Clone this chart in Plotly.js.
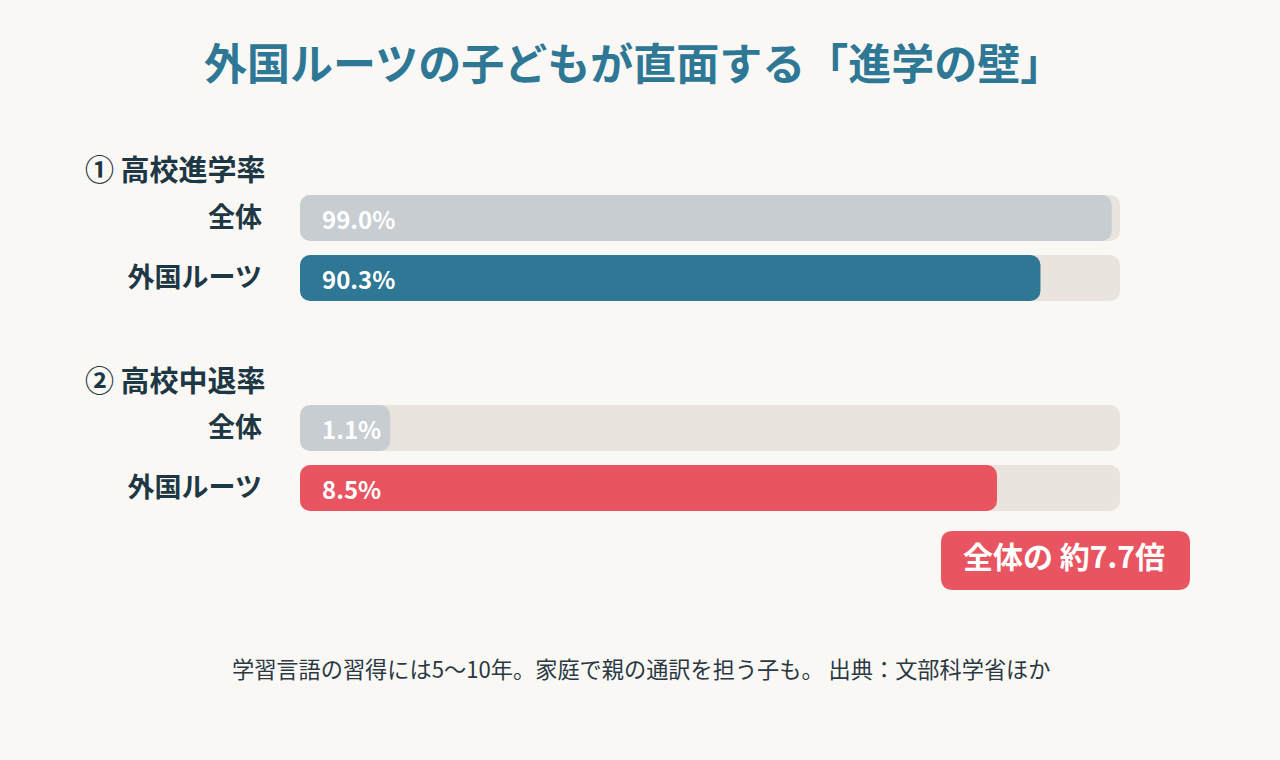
<!DOCTYPE html>
<html><head><meta charset="utf-8">
<script src="https://cdn.plot.ly/plotly-3.0.1.min.js"></script>
<style>html,body{margin:0;padding:0;background:#faf8f5;}#chart{width:1280px;height:760px;}</style>
</head><body><div id="chart"></div>
<script>
// ---- data ----
const categories = ["全体", "外国ルーツ"];
const enrollRate = [99.0, 90.3];      // ① 高校進学率 (%)
const dropoutRate = [1.1, 8.5];       // ② 高校中退率 (%)
const enrollMax = 100;
const dropoutMax = 10;
const sectionTitles = ["① 高校進学率", "② 高校中退率"];
const ratioLabel = "全体の 約7.7倍";
const chartTitle = "外国ルーツの子どもが直面する「進学の壁」";
const footnote = "学習言語の習得には5～10年。家庭で親の通訳を担う子も。 出典：文部科学省ほか";

// ---- style ----
const FONT = '"Noto Sans CJK JP", "Noto Sans", sans-serif';
const trackColor = "#e9e4de";
const greyColor = "#c8cdd2";
const teal = "#2e7795";
const red = "#e85561";
const dark = "#1e3744";
const W = 1280, H = 760;
const px = x => x / W, py = y => 1 - y / H;

const barW = 0.767;
const R = 10;
const traces = [];
// Each bar is drawn as two overlapping pieces (one rounded at each end) so both ends are rounded.
function roundedBars(vals, xa, ya, colors) {
  const common = {type: "bar", orientation: "h", y: categories, xaxis: xa, yaxis: ya,
    width: barW, hoverinfo: "skip", showlegend: false};
  traces.push(Object.assign({}, common, {base: vals.map(v => v * 0.6), x: vals.map(v => -v * 0.6),
    marker: {color: colors, cornerradius: R, line: {width: 0}}}));
  traces.push(Object.assign({}, common, {base: vals.map(v => v * 0.4), x: vals.map(v => v * 0.6),
    marker: {color: colors, cornerradius: R, line: {width: 0}}}));
}
function addSection(vals, max, xa, ya, colors) {
  roundedBars(categories.map(() => max), xa, ya, categories.map(() => trackColor));
  roundedBars(vals, xa, ya, colors);
}
addSection(enrollRate, enrollMax, "x", "y", [greyColor, teal]);
addSection(dropoutRate, dropoutMax, "x2", "y2", [greyColor, red]);

const xdom = [px(300), px(1120)];
const yTick = {family: FONT, size: 27, color: dark, weight: "bold"};
const axisX = (max) => ({domain: xdom, range: [0, max], visible: false, fixedrange: true});
const axisY = (dom) => ({domain: dom, type: "category", autorange: "reversed",
  showgrid: false, zeroline: false, showline: false, ticks: "",
  tickfont: yTick, ticklabelstandoff: 37, fixedrange: true});

const annotations = [];
function valueLabels(vals, xr, yr) {
  vals.forEach((v, i) => annotations.push({x: 0, y: categories[i], xref: xr, yref: yr,
    text: v.toFixed(1) + "%", showarrow: false, xanchor: "left", xshift: 20,
    font: {family: FONT, size: 24, color: "#ffffff", weight: "bold"}}));
}
valueLabels(enrollRate, "x", "y");
valueLabels(dropoutRate, "x2", "y2");

annotations.push({x: px(633), y: py(61), xref: "paper", yref: "paper", text: chartTitle,
  showarrow: false, xanchor: "center", yanchor: "middle",
  font: {family: FONT, size: 43, color: teal, weight: "bold"}});
[[sectionTitles[0], 168], [sectionTitles[1], 379]].forEach(([t, y]) => annotations.push({
  x: px(83), y: py(y), xref: "paper", yref: "paper", text: t, showarrow: false,
  xanchor: "left", yanchor: "middle", font: {family: FONT, size: 29, color: dark, weight: "bold"}}));
annotations.push({x: px(1064), y: py(555), xref: "paper", yref: "paper", text: ratioLabel,
  showarrow: false, xanchor: "center", yanchor: "middle",
  font: {family: FONT, size: 30, color: "#ffffff", weight: "bold"}});
annotations.push({x: px(641), y: py(668), xref: "paper", yref: "paper", text: footnote,
  showarrow: false, xanchor: "center", yanchor: "middle",
  font: {family: FONT, size: 22.2, color: "#2a3843"}});

function roundRect(x0, y0, x1, y1, r) {
  const X = v => px(v).toFixed(5), Y = v => py(v).toFixed(5);
  return `M ${X(x0 + r)} ${Y(y0)} L ${X(x1 - r)} ${Y(y0)} Q ${X(x1)} ${Y(y0)} ${X(x1)} ${Y(y0 + r)} ` +
    `L ${X(x1)} ${Y(y1 - r)} Q ${X(x1)} ${Y(y1)} ${X(x1 - r)} ${Y(y1)} L ${X(x0 + r)} ${Y(y1)} ` +
    `Q ${X(x0)} ${Y(y1)} ${X(x0)} ${Y(y1 - r)} L ${X(x0)} ${Y(y0 + r)} Q ${X(x0)} ${Y(y0)} ${X(x0 + r)} ${Y(y0)} Z`;
}

const layout = {
  width: W, height: H, margin: {l: 0, r: 0, t: 0, b: 0},
  paper_bgcolor: "#faf8f5", plot_bgcolor: "rgba(0,0,0,0)",
  barmode: "overlay", showlegend: false,
  xaxis: Object.assign(axisX(enrollMax), {anchor: "y"}),
  yaxis: Object.assign(axisY([py(308), py(188)]), {anchor: "x"}),
  xaxis2: Object.assign(axisX(dropoutMax), {anchor: "y2"}),
  yaxis2: Object.assign(axisY([py(518), py(398)]), {anchor: "x2"}),
  annotations: annotations,
  shapes: [{type: "path", xref: "paper", yref: "paper", path: roundRect(941, 531, 1190, 590, 12),
    fillcolor: red, line: {width: 0}, layer: "below"}]
};
Plotly.newPlot("chart", traces, layout, {displayModeBar: false, staticPlot: true});
</script></body></html>
